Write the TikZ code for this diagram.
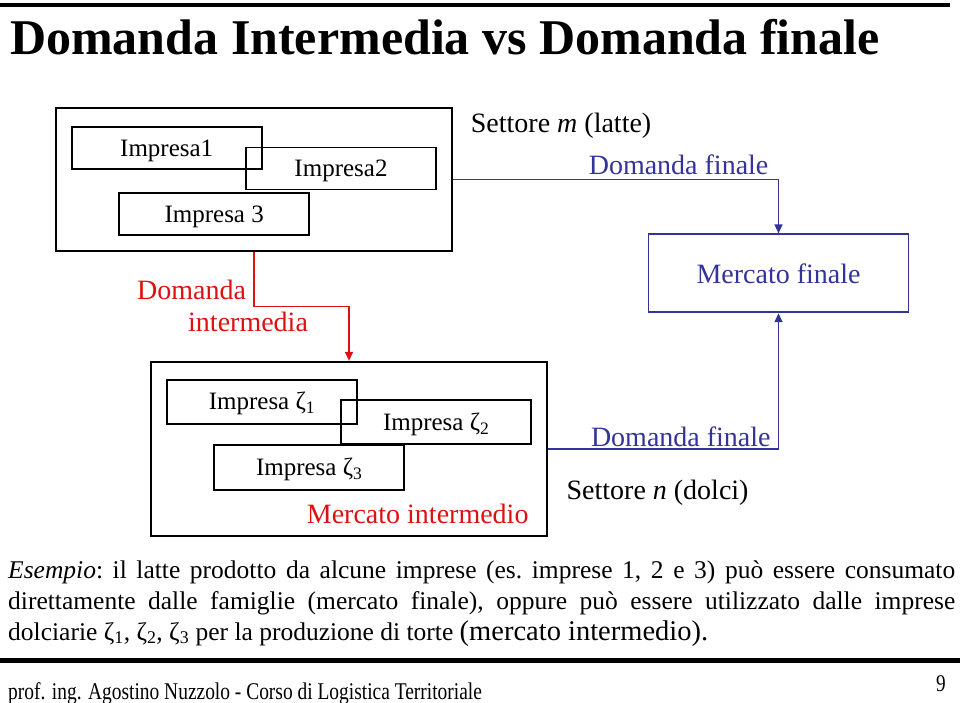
\documentclass[tikz,border=0pt]{standalone}
\usepackage{fontspec}
\setmainfont{Liberation Serif}
\usetikzlibrary{arrows.meta,calc,positioning}
\definecolor{blu}{RGB}{51,51,153}
\definecolor{rosso}{RGB}{221,17,17}
\tikzset{
  box/.style={draw,line width=1.8pt,minimum width=190pt,minimum height=42pt,inner sep=0pt,text height=16.5pt,text depth=0pt,font=\fontsize{25}{29}\selectfont},
  bigbox/.style={draw,line width=1.8pt,inner sep=0pt},
  lab/.style={inner sep=0pt,anchor=base west,font=\fontsize{28}{32}\selectfont},
  bluline/.style={blu,line width=1.4pt,-{Triangle[length=9pt,width=8pt]}},
  redline/.style={rosso,line width=1.4pt,-{Triangle[length=9pt,width=8pt]}},
}

\begin{document}
\begin{tikzpicture}[x=1pt,y=-1pt]
\useasboundingbox (0,0) rectangle (960,703);
\draw[line width=4.5pt] (0,5) -- (950,5);
\node[inner sep=0pt,anchor=base west,font=\fontsize{50}{56}\bfseries] (titolo) at (10,55) {Domanda Intermedia vs Domanda finale};

% settore m
\node[bigbox,minimum width=396pt,minimum height=143pt] (setm) at (253.9,179.4) {};
\node[box] (i1) at (166.7,148) {Impresa1};
\node[box] (i2) at (341,168.5) {Impresa2};
\node[box] (i3) at (214.2,213.9) {Impresa 3};
\node[lab] (lm) at (470.7,133) {Settore \textit{m} (latte)};

% mercato finale
\node[bigbox,draw=blu,text=blu,minimum width=260pt,minimum height=78pt,font=\fontsize{28}{32}\selectfont] (mfin) at (778.5,273.3) {Mercato finale};
\node[lab,blu] (df1) at (588.6,174.6) {Domanda finale};
\draw[bluline] (setm.east) -| (mfin.north);

% domanda intermedia
\coordinate (rk) at (349,306.7);
\node[rosso,inner sep=0pt,anchor=north west,align=left,font=\fontsize{28}{31.4}\selectfont] (dint) at (137,280) {Domanda\\\hspace*{51pt}intermedia};

% settore n
\node[bigbox,minimum width=396.6pt,minimum height=174.3pt] (setn) at (349,448.9) {};
\node[box,minimum height=44pt] (z1) at (262,401.7) {Impresa ζ\textsubscript{1}};
\node[box,minimum height=44pt] (z2) at (436.2,422.2) {Impresa ζ\textsubscript{2}};
\node[box,minimum height=45pt] (z3) at (309.2,467.5) {Impresa ζ\textsubscript{3}};
\node[lab,rosso] (mint) at (306.7,523.3) {Mercato intermedio};
\node[lab,blu] (df2) at (590.8,446) {Domanda finale};
\node[lab] (ln) at (566.4,499) {Settore \textit{n} (dolci)};
\draw[redline] (setm.south) |- (rk) -- (setn.north);
\draw[bluline] (setn.east) -| (mfin.south);

% testo
\node[anchor=north west,inner sep=0pt,text width=947pt,align=justify,font=\fontsize{25.5}{30.6}\selectfont\frenchspacing] (esempio) at (8,561) {\textit{Esempio}: il latte prodotto da alcune imprese (es. imprese 1, 2 e 3) può essere consumato\linebreak direttamente dalle famiglie (mercato finale), oppure può essere utilizzato dalle imprese\linebreak dolciarie ζ\textsubscript{1}, ζ\textsubscript{2}, ζ\textsubscript{3} per la produzione di torte {\fontsize{28.5}{30.6}\selectfont(mercato intermedio).}};
\draw[line width=5pt] (0,660) -- (960,660);
\node[inner sep=0pt,anchor=base west,font=\fontsize{24}{28}\selectfont] (piede) at (8,699) {\scalebox{0.81}[1]{prof. ing. Agostino Nuzzolo - Corso di Logistica Territoriale}};
\node[inner sep=0pt,font=\fontsize{24}{28}\selectfont] (pag) at (941,684) {\scalebox{0.8}[1]{9}};
\end{tikzpicture}
\end{document}
